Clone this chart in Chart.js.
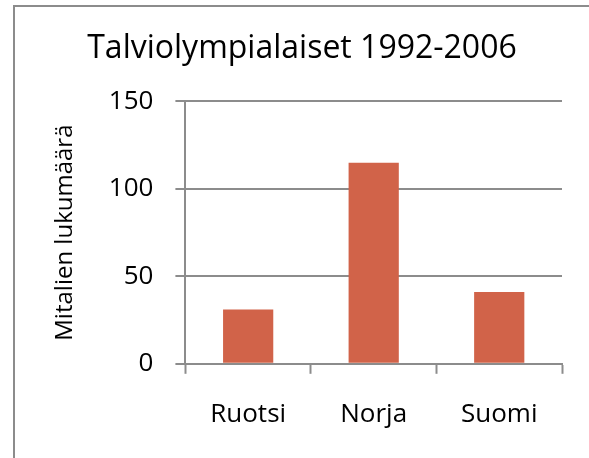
<!DOCTYPE html>
<html>
<head>
<meta charset="utf-8">
<script src="https://cdn.jsdelivr.net/npm/chart.js@4"></script>
<style>
  html, body { margin: 0; padding: 0; background: #fff; overflow: hidden; }
  #frame {
    position: absolute; left: 13px; top: 5px; width: 640px; height: 520px;
    border-left: 2px solid #8c8c8c; border-top: 2px solid #8c8c8c;
  }
  #wrap { position: absolute; left: 0; top: 0; width: 589px; height: 458px; }
</style>
</head>
<body>
<div id="frame"></div>
<div id="wrap"><canvas id="chart" width="589" height="458"></canvas></div>
<script>
const categories = ['Ruotsi', 'Norja', 'Suomi'];
const medals = [31, 115, 41];
const yTicks = [0, 50, 100, 150];

const chartTitle = 'Talviolympialaiset 1992-2006';
const yTitle = 'Mitalien lukumäärä';

const FONT = "'Open Sans'";
const GRID = '#8c8c8c';

function draw() {
  new Chart(document.getElementById('chart'), {
    type: 'bar',
    data: {
      labels: categories,
      datasets: [{
        data: medals,
        backgroundColor: '#d16349',
        borderWidth: 0,
        barPercentage: 0.4,
        categoryPercentage: 1,
      }],
    },
    options: {
      responsive: false,
      animation: false,
      layout: { padding: { left: 42, right: 27, top: 0, bottom: 3 } },
      plugins: {
        legend: { display: false },
        tooltip: { enabled: false },
        title: {
          display: true,
          text: chartTitle,
          color: '#000',
          font: { family: FONT, size: 32, weight: 'normal' },
          padding: { top: 30, bottom: 33 },
        },
      },
      scales: {
        x: {
          grid: {
            drawOnChartArea: false,
            drawTicks: true,
            tickLength: 10,
            tickColor: GRID,
            tickWidth: 2,
          },
          border: { color: GRID, width: 2 },
          ticks: {
            color: '#000',
            padding: 25,
            font: { family: FONT, size: 26 },
          },
        },
        y: {
          min: 0,
          max: 150,
          afterBuildTicks: axis => { axis.ticks = yTicks.map(v => ({ value: v })); },
          grid: {
            color: GRID,
            lineWidth: 2,
            tickLength: 10,
            tickColor: GRID,
          },
          border: { color: GRID, width: 2 },
          ticks: {
            color: '#000',
            padding: 22,
            font: { family: FONT, size: 26 },
          },
          title: {
            display: true,
            text: yTitle,
            color: '#000',
            font: { family: FONT, size: 24 },
            padding: { top: 9, bottom: 7 },
          },
        },
      },
    },
  });
}

document.fonts.load("26px 'Open Sans'").then(draw, draw);
</script>
</body>
</html>
